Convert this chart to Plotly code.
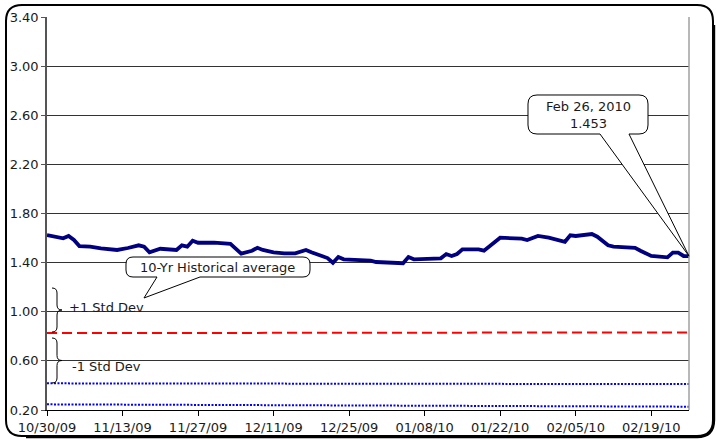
import plotly.graph_objects as go

# ---------------- data ----------------
dates = ["2009-10-30", "2009-11-02", "2009-11-03", "2009-11-04", "2009-11-05", "2009-11-07",
         "2009-11-09", "2009-11-11", "2009-11-12", "2009-11-14", "2009-11-16", "2009-11-17",
         "2009-11-18", "2009-11-20", "2009-11-23", "2009-11-24", "2009-11-25", "2009-11-26",
         "2009-11-27", "2009-11-30", "2009-12-02", "2009-12-03", "2009-12-05", "2009-12-07",
         "2009-12-08", "2009-12-09", "2009-12-11", "2009-12-13", "2009-12-15", "2009-12-17",
         "2009-12-18", "2009-12-21", "2009-12-22", "2009-12-23", "2009-12-24", "2009-12-29",
         "2009-12-30", "2010-01-04", "2010-01-05", "2010-01-06", "2010-01-11", "2010-01-12",
         "2010-01-13", "2010-01-14", "2010-01-15", "2010-01-18", "2010-01-19", "2010-01-20",
         "2010-01-22", "2010-01-26", "2010-01-27", "2010-01-29", "2010-01-31", "2010-02-03",
         "2010-02-04", "2010-02-05", "2010-02-08", "2010-02-09", "2010-02-11", "2010-02-12",
         "2010-02-16", "2010-02-17", "2010-02-18", "2010-02-19", "2010-02-22", "2010-02-23",
         "2010-02-24", "2010-02-25", "2010-02-26"]
ratio = [1.625, 1.598, 1.617, 1.584, 1.535, 1.530,
         1.516, 1.503, 1.503, 1.519, 1.541, 1.530,
         1.484, 1.513, 1.503, 1.541, 1.530, 1.578,
         1.562, 1.562, 1.552, 1.552, 1.473, 1.497,
         1.521, 1.503, 1.484, 1.476, 1.476, 1.503,
         1.484, 1.437, 1.399, 1.446, 1.427, 1.416,
         1.405, 1.395, 1.445, 1.427, 1.435, 1.470,
         1.454, 1.470, 1.508, 1.508, 1.497, 1.530,
         1.603, 1.595, 1.584, 1.617, 1.603, 1.570,
         1.622, 1.617, 1.633, 1.611, 1.541, 1.530,
         1.521, 1.497, 1.476, 1.454, 1.443, 1.481,
         1.481, 1.454, 1.453]

band_dates = ["2009-10-30", "2010-02-26"]
hist_avg = [0.826, 0.832]
minus_1sd = [0.417, 0.411]
lower_band = [0.246, 0.227]

y_ticks = [0.2, 0.6, 1.0, 1.4, 1.8, 2.2, 2.6, 3.0, 3.4]
x_ticks = ["2009-10-30", "2009-11-13", "2009-11-27", "2009-12-11", "2009-12-25",
           "2010-01-08", "2010-01-22", "2010-02-05", "2010-02-19"]
x_tick_labels = ["10/30/09", "11/13/09", "11/27/09", "12/11/09", "12/25/09",
                 "01/08/10", "01/22/10", "02/05/10", "02/19/10"]

callout_avg_text = "10-Yr Historical average"
callout_last_text = "Feb 26, 2010<br>1.453"
plus_text = "+1 Std Dev"
minus_text = "-1 Std Dev"

# ---------------- geometry helpers ----------------
W, H = 717, 439
L, R, T, B = 47, 689, 17, 410
YMIN, YMAX = 0.2, 3.4


def P(x, y):
    return (x - L) / (R - L), (B - y) / (B - T)


def fmt(x, y):
    a, b = P(x, y)
    return f"{a:.5f},{b:.5f}"


def callout_path(x0, y0, x1, y1, r, wl, wr, tip):
    tx, ty = tip
    parts = [
        f"M {fmt(x0 + r, y0)}",
        f"L {fmt(x1 - r, y0)}",
        f"Q {fmt(x1, y0)} {fmt(x1, y0 + r)}",
        f"L {fmt(x1, y1 - r)}",
        f"Q {fmt(x1, y1)} {fmt(x1 - r, y1)}",
        f"L {fmt(wr, y1)}",
        f"L {fmt(tx, ty)}",
        f"L {fmt(wl, y1)}",
        f"L {fmt(x0 + r, y1)}",
        f"Q {fmt(x0, y1)} {fmt(x0, y1 - r)}",
        f"L {fmt(x0, y0 + r)}",
        f"Q {fmt(x0, y0)} {fmt(x0 + r, y0)}",
        "Z",
    ]
    return " ".join(parts)


def brace_path(x, y0, y1, w):
    ym = (y0 + y1) / 2
    xm = x + w / 2
    parts = [
        f"M {fmt(x, y0)}",
        f"Q {fmt(xm, y0)} {fmt(xm, y0 + 5)}",
        f"L {fmt(xm, ym - 5)}",
        f"Q {fmt(xm, ym)} {fmt(x + w, ym)}",
        f"Q {fmt(xm, ym)} {fmt(xm, ym + 5)}",
        f"L {fmt(xm, y1 - 5)}",
        f"Q {fmt(xm, y1)} {fmt(x, y1)}",
    ]
    return " ".join(parts)


def rounded_rect(x0, y0, x1, y1, r):
    parts = [
        f"M {fmt(x0 + r, y0)}",
        f"L {fmt(x1 - r, y0)}",
        f"Q {fmt(x1, y0)} {fmt(x1, y0 + r)}",
        f"L {fmt(x1, y1 - r)}",
        f"Q {fmt(x1, y1)} {fmt(x1 - r, y1)}",
        f"L {fmt(x0 + r, y1)}",
        f"Q {fmt(x0, y1)} {fmt(x0, y1 - r)}",
        f"L {fmt(x0, y0 + r)}",
        f"Q {fmt(x0, y0)} {fmt(x0 + r, y0)}",
        "Z",
    ]
    return " ".join(parts)


def shadow_corner(x1, y1, r, off):
    # bottom-right shadow edge of the frame
    parts = [
        f"M {fmt(x1 + off, 5 + r + 4)}",
        f"L {fmt(x1 + off, y1 - r)}",
        f"Q {fmt(x1 + off, y1 + off)} {fmt(x1 - r, y1 + off)}",
        f"L {fmt(6 + r + 4, y1 + off)}",
    ]
    return " ".join(parts)


def val_to_py(v):
    return B - (v - YMIN) / (YMAX - YMIN) * (B - T)


FONT = "DejaVu Sans, Verdana, sans-serif"
TXT = "#1a1a1a"

fig = go.Figure()

fig.add_trace(go.Scatter(x=band_dates, y=lower_band, mode="lines",
                         line=dict(color="#0000FF", width=2, dash="2px,1.5px"),
                         hoverinfo="skip", showlegend=False))
fig.add_trace(go.Scatter(x=band_dates, y=minus_1sd, mode="lines",
                         line=dict(color="#0000FF", width=2, dash="2px,1.5px"),
                         hoverinfo="skip", showlegend=False))
fig.add_trace(go.Scatter(x=band_dates, y=hist_avg, mode="lines",
                         line=dict(color="#FF0000", width=2, dash="10px,5px"),
                         hoverinfo="skip", showlegend=False))
fig.add_trace(go.Scatter(x=dates, y=ratio, mode="lines",
                         line=dict(color="#000080", width=3.8),
                         showlegend=False))

shapes = []
# right border of plot area
shapes.append(dict(type="line", xref="paper", yref="paper", x0=1, x1=1, y0=0, y1=1,
                   line=dict(color="#A0A0A0", width=1.5)))
# outer rounded frame + shadow
shapes.append(dict(type="path", xref="paper", yref="paper",
                   path=shadow_corner(713, 436, 16, 1.2),
                   line=dict(color="#000000", width=2)))
shapes.append(dict(type="path", xref="paper", yref="paper",
                   path=rounded_rect(6, 5, 713, 436, 16),
                   line=dict(color="#000000", width=2), fillcolor="rgba(0,0,0,0)"))
# callout for historical average
shapes.append(dict(type="path", xref="paper", yref="paper",
                   path=callout_path(126, 257, 310, 277, 7, 157, 200, (144, 298)),
                   line=dict(color="#000000", width=1), fillcolor="white"))
# callout for last value
tip_y = val_to_py(ratio[-1])
shapes.append(dict(type="path", xref="paper", yref="paper",
                   path=callout_path(528, 95, 648, 134, 9, 600, 629, (R, tip_y)),
                   line=dict(color="#000000", width=1), fillcolor="white"))
# braces
shapes.append(dict(type="path", xref="paper", yref="paper",
                   path=brace_path(52, 288, 332, 10),
                   line=dict(color="#000000", width=1)))
shapes.append(dict(type="path", xref="paper", yref="paper",
                   path=brace_path(52, 338, 383, 10),
                   line=dict(color="#000000", width=1)))

annotations = []


def add_text(text, x, y, anchor="center"):
    a, b = P(x, y)
    annotations.append(dict(text=text, x=a, y=b, xref="paper", yref="paper",
                            showarrow=False, xanchor=anchor, yanchor="middle",
                            font=dict(family=FONT, size=13, color=TXT)))


add_text(callout_avg_text, 218, 267)
a, b = P(588, 115)
annotations.append(dict(text=callout_last_text, x=a, y=b, xref="paper", yref="paper",
                        showarrow=False, xanchor="center", yanchor="middle",
                        font=dict(family=FONT, size=13, color=TXT)))
add_text(plus_text, 67, 307, anchor="left")
add_text(minus_text, 70, 366, anchor="left")

fig.update_layout(
    width=W, height=H, autosize=False,
    margin=dict(l=L, r=W - R, t=T, b=H - B, pad=0, autoexpand=False),
    paper_bgcolor="white", plot_bgcolor="white",
    font=dict(family=FONT, size=13, color=TXT),
    shapes=shapes, annotations=annotations,
    xaxis=dict(type="date", range=["2009-10-30", "2010-02-26"],
               tickmode="array", tickvals=x_ticks, ticktext=x_tick_labels,
               showgrid=False, zeroline=False, automargin=False,
               showline=True, linecolor="#000000", linewidth=1,
               ticks="outside", ticklen=5, tickcolor="#000000",
               tickfont=dict(family=FONT, size=13, color=TXT)),
    yaxis=dict(range=[YMIN, YMAX], tickmode="array", tickvals=y_ticks,
               ticktext=[f"{v:.2f}" for v in y_ticks], automargin=False,
               showgrid=True, gridcolor="#333333", gridwidth=1, zeroline=False,
               showline=True, linecolor="#555555", linewidth=1.5,
               ticks="outside", ticklen=4, tickcolor="#555555",
               tickfont=dict(family=FONT, size=13, color=TXT)),
)

fig.write_html("out.html", config={"displayModeBar": False},
               post_script="document.body.style.margin='0px';document.body.style.overflow='hidden';")
